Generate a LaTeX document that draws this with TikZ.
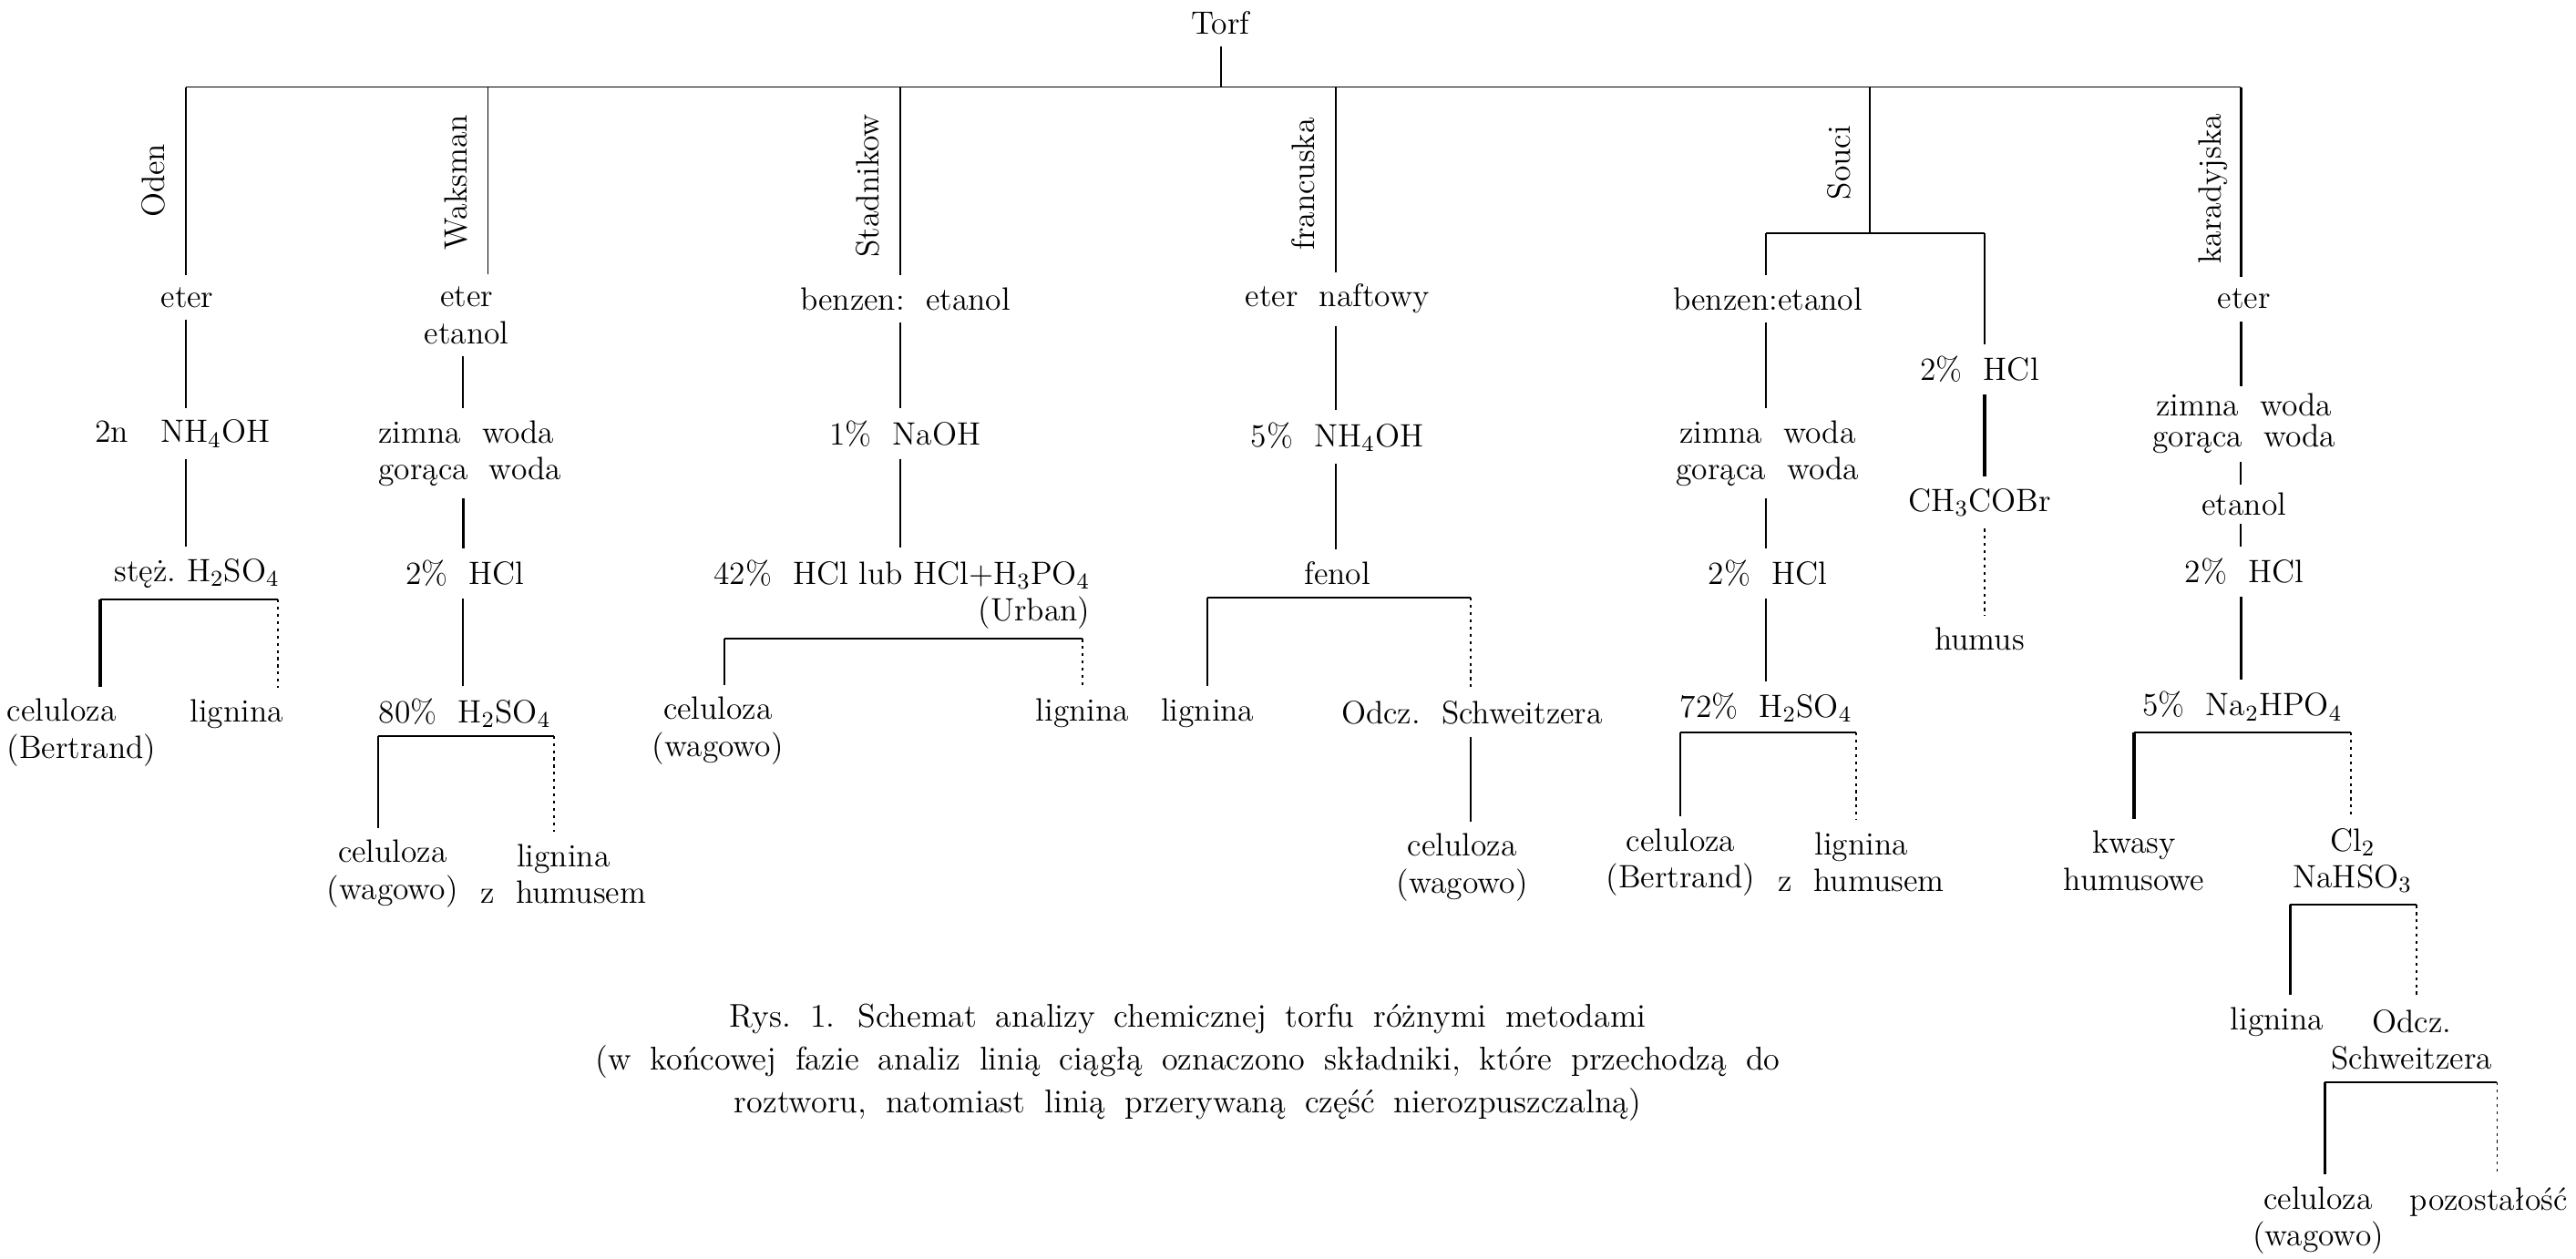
\documentclass[tikz,border=0pt]{standalone}

\begin{document}
\begin{tikzpicture}[x=0.02cm, y=-0.02cm,
  txt/.style={inner sep=4pt, font=\fontsize{11.2}{12.8}\selectfont},
  meth/.style={rotate=90, anchor=base, inner sep=0pt, font=\fontsize{11.2}{12.8}\selectfont},
  link/.style={line width=0.6pt},
  fat/.style={line width=1pt},
  insol/.style={line width=0.6pt, dash pattern=on 1pt off 1.5pt}]
  \useasboundingbox (0,0) rectangle (1568,766);

  % Torf and the main bar
  \node[txt] (torf) at (743,14) {Torf};
  \coordinate (topL) at (113,53);
  \coordinate (topR) at (1364,53);
  \draw[link] (topL) -- (topR);
  \draw[link] (torf.south) -- (torf.south |- topL);

  % Oden
  \coordinate (mOden) at (113,53);
  \node[meth] (lbOden) at (100,110) {Oden};
  \node[txt] (eO) at (114,181) {eter};
  \node[txt] (nhO) at (111,264) {2n\quad NH\textsubscript{4}OH};
  \node[txt] (sO) at (120,349) {stęż.\ H\textsubscript{2}SO\textsubscript{4}};
  \node[txt, align=left, anchor=west] (cO) at (-3,446) {celuloza\\(Bertrand)};
  \node[txt] (lO) at (144,435) {lignina};
  \coordinate (bOa) at (61,365);
  \coordinate (bOb) at (169,365);
  \draw[link] (mOden) -- (mOden |- eO.north);
  \draw[link] (mOden |- eO.south) -- (mOden |- nhO.north);
  \draw[link] (mOden |- nhO.south) -- (mOden |- sO.north);
  \draw[link] (bOa) -- (bOb);
  \draw[fat] (bOa) -- (bOa |- cO.north);
  \draw[insol] (bOb) -- (bOb |- lO.north);

  % Waksman
  \coordinate (mWaks) at (297,53);
  \coordinate (aW) at (282,200);
  \node[meth] (lbWaks) at (284,111) {Waksman};
  \node[txt, align=center] (eW) at (284,192) {eter\\etanol};
  \node[txt, align=left, anchor=west] (zW) at (223,276) {zimna~~woda\\gorąca~~woda};
  \node[txt] (hW) at (283,349) {2\%~~HCl};
  \node[txt] (hsW) at (283,434) {80\%~~H\textsubscript{2}SO\textsubscript{4}};
  \node[txt, align=center] (cW) at (239,532) {celuloza\\(wagowo)};
  \node[txt, align=center] (lW) at (343,532) {lignina\\z~~humusem};
  \coordinate (bWa) at (230,448);
  \coordinate (bWb) at (337,448);
  \draw[link] (mWaks) -- (mWaks |- eW.north);
  \draw[link] (aW |- eW.south) -- (aW |- zW.north);
  \draw[fat] (aW |- zW.south) -- (aW |- hW.north);
  \draw[link] (aW |- hW.south) -- (aW |- hsW.north);
  \draw[link] (bWa) -- (bWb);
  \draw[link] (bWa) -- (bWa |- cW.north);
  \draw[insol] (bWb) -- (bWb |- lW.north);

  % Stadnikow
  \coordinate (mStad) at (548,53);
  \node[meth] (lbStad) at (535,113) {Stadnikow};
  \node[txt] (eS) at (551,182) {benzen:~~etanol};
  \node[txt] (nS) at (551,264) {1\%~~NaOH};
  \node[txt, align=right, anchor=east] (hS) at (671,362) {42\%~~HCl lub HCl+H\textsubscript{3}PO\textsubscript{4}\\(Urban)};
  \node[txt, align=center] (cS) at (437,445) {celuloza\\(wagowo)};
  \node[txt] (lS) at (659,434) {lignina};
  \coordinate (bSa) at (441,389);
  \coordinate (bSb) at (659,389);
  \draw[link] (mStad) -- (mStad |- eS.north);
  \draw[link] (mStad |- eS.south) -- (mStad |- nS.north);
  \draw[link] (mStad |- nS.south) -- (mStad |- hS.north);
  \draw[link] (bSa) -- (bSb);
  \draw[link] (bSa) -- (bSa |- cS.north);
  \draw[insol] (bSb) -- (bSb |- lS.north);

  % francuska
  \coordinate (mFran) at (813,53);
  \node[meth] (lbFran) at (800,112) {francuska};
  \node[txt] (eF) at (814,182) {eter~~naftowy};
  \node[txt] (nF) at (814,266) {5\%~~NH\textsubscript{4}OH};
  \node[txt] (fF) at (814,349) {fenol};
  \node[txt] (lF) at (735,434) {lignina};
  \node[txt] (oF) at (896,434) {Odcz.~~Schweitzera};
  \node[txt, align=center] (cF) at (890,528) {celuloza\\(wagowo)};
  \coordinate (bFa) at (735,364);
  \coordinate (bFb) at (895,364);
  \draw[link] (mFran) -- (mFran |- eF.north);
  \draw[link] (mFran |- eF.south) -- (mFran |- nF.north);
  \draw[link] (mFran |- nF.south) -- (mFran |- fF.north);
  \draw[link] (bFa) -- (bFb);
  \draw[link] (bFa) -- (bFa |- lF.north);
  \draw[insol] (bFb) -- (bFb |- oF.north);
  \draw[link] (bFb |- oF.south) -- (bFb |- cF.north);

  % Souci
  \coordinate (mSouci) at (1138,53);
  \coordinate (sbL) at (1075,142);
  \coordinate (sbR) at (1208,142);
  \node[meth] (lbSouci) at (1126,99) {Souci};
  \node[txt] (eSo) at (1076,182) {benzen:etanol};
  \node[txt, align=center] (zSo) at (1076,276) {zimna~~woda\\gorąca~~woda};
  \node[txt] (hSo) at (1076,349) {2\%~~HCl};
  \node[txt] (hsSo) at (1075,431) {72\%~~H\textsubscript{2}SO\textsubscript{4}};
  \node[txt, align=center] (cSo) at (1023,525) {celuloza\\(Bertrand)};
  \node[txt, align=center] (lSo) at (1133,525) {lignina\\z~~humusem};
  \node[txt] (hSr) at (1205,225) {2\%~~HCl};
  \node[txt] (chSr) at (1205,306) {CH\textsubscript{3}COBr};
  \node[txt] (huSr) at (1205,389) {humus};
  \coordinate (bSoa) at (1023,446);
  \coordinate (bSob) at (1130,446);
  \draw[link] (mSouci) -- (mSouci |- sbL);
  \draw[link] (sbL) -- (sbR);
  \draw[link] (sbL) -- (sbL |- eSo.north);
  \draw[link] (sbL |- eSo.south) -- (sbL |- zSo.north);
  \draw[link] (sbL |- zSo.south) -- (sbL |- hSo.north);
  \draw[link] (sbL |- hSo.south) -- (sbL |- hsSo.north);
  \draw[link] (bSoa) -- (bSob);
  \draw[link] (bSoa) -- (bSoa |- cSo.north);
  \draw[insol] (bSob) -- (bSob |- lSo.north);
  \draw[link] (sbR) -- (sbR |- hSr.north);
  \draw[fat] (sbR |- hSr.south) -- (sbR |- chSr.north);
  \draw[insol] (sbR |- chSr.south) -- (sbR |- huSr.north);

  % karadyjska
  \coordinate (mKar) at (1364,53);
  \node[meth] (lbKar) at (1352,115) {karadyjska};
  \node[txt] (eK) at (1366,182) {eter};
  \node[txt, align=center, inner sep=2.5pt, font=\fontsize{11.2}{10.8}\selectfont] (zK) at (1366,258) {zimna~~woda\\gorąca~~woda};
  \node[txt, inner sep=2.5pt] (etK) at (1366,307) {etanol};
  \node[txt] (hK) at (1366,348) {2\%~~HCl};
  \node[txt] (nK) at (1365,430) {5\%~~Na\textsubscript{2}HPO\textsubscript{4}};
  \node[txt, align=center] (kK) at (1299,524) {kwasy\\humusowe};
  \node[txt, align=center] (clK) at (1432,524) {Cl\textsubscript{2}\\NaHSO\textsubscript{3}};
  \node[txt] (lK) at (1386,622) {lignina};
  \node[txt, align=center] (oK) at (1468,633) {Odcz.\\Schweitzera};
  \node[txt, align=center] (cK) at (1411,743) {celuloza\\(wagowo)};
  \node[txt] (pK) at (1515,732) {pozostałość};
  \coordinate (bKa) at (1299,446);
  \coordinate (bKb) at (1431,446);
  \coordinate (bKc) at (1394,551);
  \coordinate (bKd) at (1471,551);
  \coordinate (bKe) at (1415,659);
  \coordinate (bKf) at (1520,659);
  \draw[fat] (mKar) -- (mKar |- eK.north);
  \draw[fat] (mKar |- eK.south) -- (mKar |- zK.north);
  \draw[link] (mKar |- zK.south) -- (mKar |- etK.north);
  \draw[link] (mKar |- etK.south) -- (mKar |- hK.north);
  \draw[fat] (mKar |- hK.south) -- (mKar |- nK.north);
  \draw[link] (bKa) -- (bKb);
  \draw[fat] (bKa) -- (bKa |- kK.north);
  \draw[insol] (bKb) -- (bKb |- clK.north);
  \draw[link] (bKc) -- (bKd);
  \draw[fat] (bKc) -- (bKc |- lK.north);
  \draw[insol] (bKd) -- (bKd |- oK.north);
  \draw[link] (bKe) -- (bKf);
  \draw[fat] (bKe) -- (bKe |- cK.north);
  \draw[insol] (bKf) -- (bKf |- pK.north);

  % caption
  \node[txt, align=center, font={\fontsize{11.4}{14.8}\selectfont\spaceskip=0.58em\relax}] (capt) at (723,647)
    {Rys.~1. Schemat analizy chemicznej torfu różnymi metodami\\
     (w końcowej fazie analiz linią ciągłą oznaczono składniki, które przechodzą do\\
     roztworu, natomiast linią przerywaną część nierozpuszczalną)};
\end{tikzpicture}
\end{document}
